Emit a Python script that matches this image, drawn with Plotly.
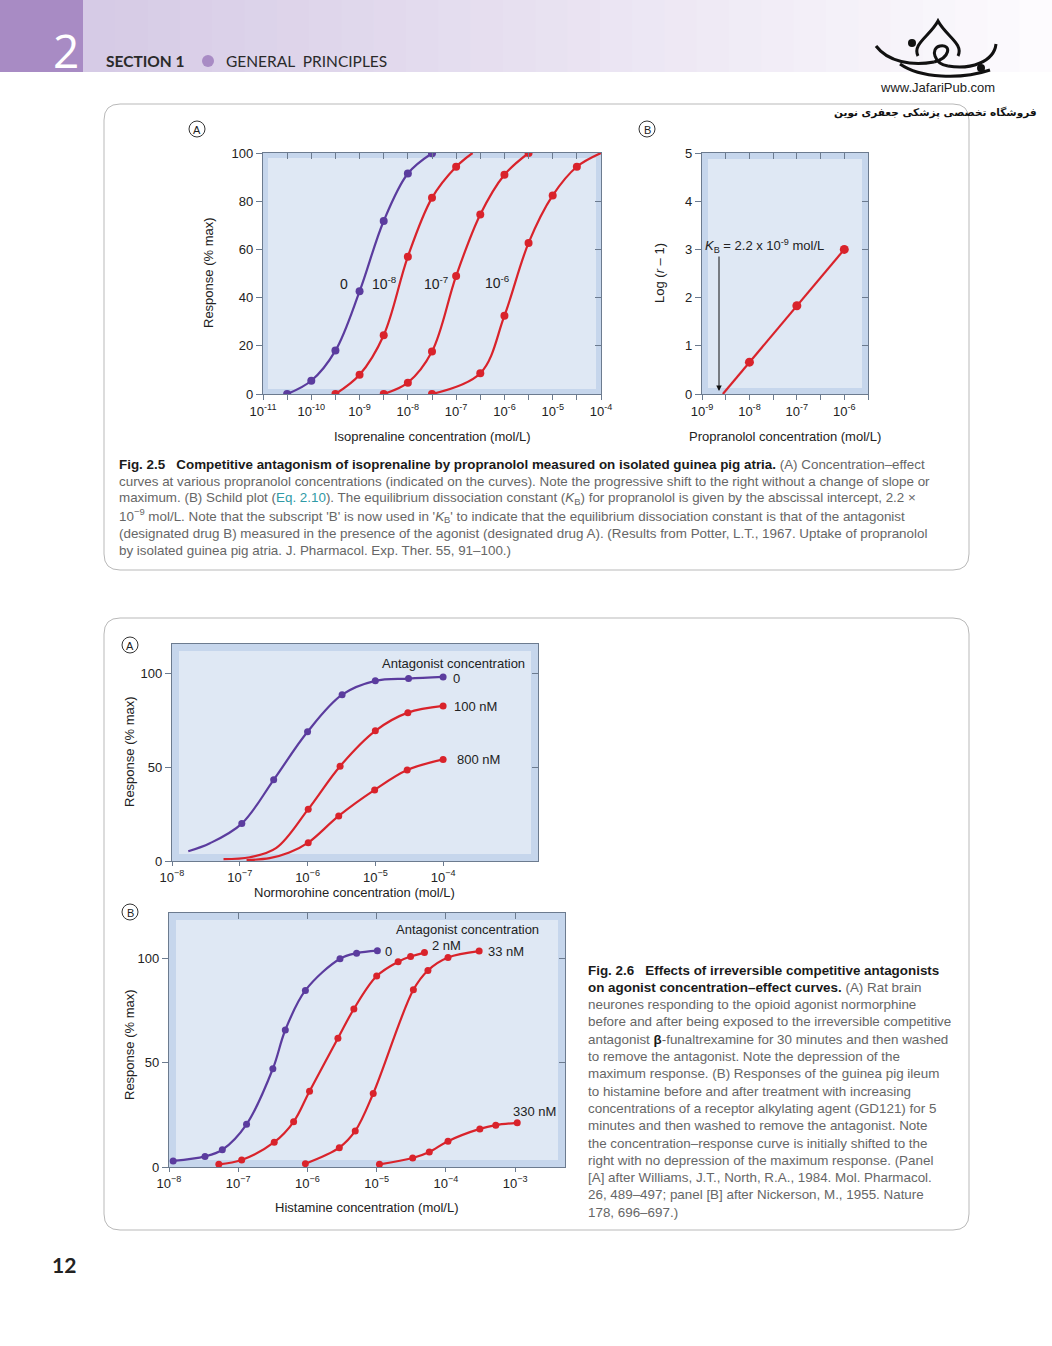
import plotly.graph_objects as go

W, H = 1052, 1346
def px(x): return x / W
def py(y): return 1 - y / H

# ---------------- DATA (x values are log10 of molar concentration) ----------------
# Fig 2.5A  isoprenaline concentration-effect curves at various propranolol concentrations
iso_x_0 = [-10.5, -10, -9.5, -9, -8.5, -8, -7.5]
iso_y_0 = [0, 5.5, 18, 42.6, 71.8, 91.5, 99.9]
iso_x_e8 = [-9.5, -9, -8.5, -8, -7.5, -7]
iso_y_e8 = [0, 8, 24.4, 57, 81.4, 94.3]
iso_x_e7 = [-8.5, -8, -7.5, -7, -6.5, -6, -5.5]
iso_y_e7 = [0, 4.7, 17.6, 49, 74.5, 91, 100]
iso_x_e6 = [-7.5, -6.5, -6, -5.5, -5, -4.5]
iso_y_e6 = [0, 8.6, 32.5, 62.7, 82.4, 94.3]
iso_end_e8 = [[-6.66], [100]]
iso_end_e6 = [[-4.0], [100]]
iso_labels = ["0", "10<sup>-8</sup>", "10<sup>-7</sup>", "10<sup>-6</sup>"]

# Fig 2.5B  Schild plot
schild_x = [-8, -7, -6]
schild_y = [0.66, 1.83, 3.0]
schild_intercept = -8.56

# Fig 2.6A  normorphine (curve tails)
nor_x_0 = [-6.97, -6.5, -6.0, -5.49, -5.0, -4.51, -4.0]
nor_y_0 = [20, 43.4, 69.1, 88.9, 96.3, 97.5, 98.4]
nor_tail_0 = [[-7.76, -7.44], [5.2, 9.5]]
nor_x_100 = [-5.99, -5.52, -5.0, -4.52, -4.0]
nor_y_100 = [27.7, 50.7, 69.6, 79.3, 82.9]
nor_tail_100 = [[-7.24, -6.85, -6.46], [1.0, 2.0, 7.0]]
nor_x_800 = [-5.99, -5.54, -5.01, -4.53, -4.0]
nor_y_800 = [9.8, 24.1, 38, 48.6, 54.3]
nor_tail_800 = [[-6.9, -6.56, -6.27], [0.5, 1.5, 4.5]]

# Fig 2.6B  histamine
his_x_0 = [-7.94, -7.48, -7.23, -6.88, -6.50, -6.32, -6.03, -5.53, -5.29, -4.99]
his_y_0 = [2.9, 5.1, 8.3, 20.5, 47.2, 65.8, 84.8, 100, 102.7, 103.9]
his_x_2 = [-7.28, -6.95, -6.48, -6.20, -5.97, -5.56, -5.33, -5.0, -4.69, -4.51, -4.31]
his_y_2 = [1.3, 3.4, 11.9, 21.7, 36.4, 61.8, 75.9, 91.7, 98.6, 101.1, 103.0]
his_x_33 = [-6.03, -5.54, -5.31, -5.05, -4.47, -4.26, -3.97, -3.52]
his_y_33 = [1.6, 9.3, 17.3, 35.3, 85.1, 94.4, 100.6, 103.7]
his_x_330 = [-4.96, -4.48, -4.24, -3.97, -3.51, -3.28, -2.97]
his_y_330 = [1.3, 4.3, 7.2, 12.4, 18.3, 20.1, 21.2]

# tick labels
t25a = ["10<sup>-11</sup>", "10<sup>-10</sup>", "10<sup>-9</sup>", "10<sup>-8</sup>",
        "10<sup>-7</sup>", "10<sup>-6</sup>", "10<sup>-5</sup>", "10<sup>-4</sup>"]
t25b = ["10<sup>-9</sup>", "10<sup>-8</sup>", "10<sup>-7</sup>", "10<sup>-6</sup>"]
t26a = ["10<sup>\u22128</sup>", "10<sup>\u22127</sup>", "10<sup>\u22126</sup>",
        "10<sup>\u22125</sup>", "10<sup>\u22124</sup>"]
t26b = t26a + ["10<sup>\u22123</sup>"]

# ---------------- STYLE ----------------
PURPLE = "#5b3c9e"
RED = "#d9232b"
AXC = "#6c7b8f"
BAND = "#c6d6ec"
INNER = "#dfe8f4"
FONT = "Liberation Sans"
TXT = "#222222"
GREY = "#666666"

fig = go.Figure()
layout = {}
shapes = []
ann = []

def nm(n, a):
    return a if n == 1 else f"{a}{n}"

def add_panel(idx, dom, xr, yr, xb, xb_text, xt, yl, yr_ticks, band, xb_len=5):
    l, r, t, b = dom
    n1, n2 = 2 * idx + 1, 2 * idx + 2
    xd = [px(l), px(r)]
    yd = [py(b), py(t)]
    shapes.append(dict(type="rect", xref="paper", yref="paper", x0=px(l), x1=px(r), y0=py(b), y1=py(t),
                       fillcolor=BAND, line=dict(width=0), layer="below"))
    shapes.append(dict(type="rect", xref="paper", yref="paper", x0=px(l + band), x1=px(r - band),
                       y0=py(b - band), y1=py(t + band), fillcolor=INNER, line=dict(width=0), layer="below"))
    layout["xaxis" if n1 == 1 else f"xaxis{n1}"] = dict(
        type="log", range=list(xr), domain=xd, anchor=nm(n1, "y"), ticks="outside", ticklen=xb_len,
        tickwidth=1, tickcolor=AXC, tickvals=[10 ** v for v in xb], ticktext=xb_text, showline=True,
        linecolor=AXC, linewidth=1.2, mirror=True, showgrid=False, zeroline=False, automargin=False,
        tickfont=dict(family=FONT, size=13, color=TXT))
    layout[f"yaxis{'' if n1 == 1 else n1}"] = dict(
        range=list(yr), domain=yd, anchor=nm(n1, "x"), ticks="outside", ticklen=6, tickwidth=1,
        tickcolor=AXC, tickvals=yl, ticktext=[str(v) for v in yl], showline=True, linecolor=AXC,
        linewidth=1.2, mirror=True, showgrid=False, zeroline=False, automargin=False,
        tickfont=dict(family=FONT, size=13, color=TXT))
    layout[f"xaxis{n2}"] = dict(
        type="log", range=list(xr), domain=xd, overlaying=nm(n1, "x"), anchor=f"y{n2}", side="top",
        ticks="inside" if xt else "", ticklen=6, tickwidth=1, tickcolor=AXC, automargin=False,
        tickvals=[10 ** v for v in xt], showticklabels=False, showline=False, showgrid=False, zeroline=False)
    layout[f"yaxis{n2}"] = dict(
        range=list(yr), domain=yd, overlaying=nm(n1, "y"), anchor=f"x{n2}", side="right",
        ticks="inside", ticklen=6, tickwidth=1, tickcolor=AXC, tickvals=yr_ticks, automargin=False,
        showticklabels=False, showline=False, showgrid=False, zeroline=False)
    fig.add_trace(go.Scatter(x=[], y=[], xaxis=f"x{n2}", yaxis=f"y{n2}", showlegend=False))
    return nm(n1, "x"), nm(n1, "y")

def curve(xa, ya, xs, ys, color, msize, lw=2.2, start=None, end=None):
    lx = list(xs); ly = list(ys)
    if start:
        lx = list(start[0]) + lx; ly = list(start[1]) + ly
    if end:
        lx = lx + list(end[0]); ly = ly + list(end[1])
    fig.add_trace(go.Scatter(x=[10 ** v for v in lx], y=ly, mode="lines", xaxis=xa, yaxis=ya,
                             line=dict(color=color, width=lw, shape="spline", smoothing=1.0),
                             showlegend=False, hoverinfo="skip"))
    fig.add_trace(go.Scatter(x=[10 ** v for v in xs], y=list(ys), mode="markers", xaxis=xa, yaxis=ya,
                             marker=dict(color=color, size=msize, line=dict(width=0)),
                             showlegend=False))

def half(a, b):
    return [a + 0.5 * i for i in range(int(round((b - a) * 2)) + 1)]

def halftext(labels):
    out = []
    for i, s in enumerate(labels):
        out.append(s)
        if i < len(labels) - 1:
            out.append("")
    return out

# ---- Fig 2.5A
xa, ya = add_panel(0, (263, 601, 153, 394), (-11, -4), (0, 100), half(-11, -4), halftext(t25a),
                   half(-10.5, -4.5), [0, 20, 40, 60, 80, 100], [20, 40, 60, 80], 5)
curve(xa, ya, iso_x_0, iso_y_0, PURPLE, 8)
curve(xa, ya, iso_x_e8, iso_y_e8, RED, 8, end=iso_end_e8)
curve(xa, ya, iso_x_e7, iso_y_e7, RED, 8)
curve(xa, ya, iso_x_e6, iso_y_e6, RED, 8, end=iso_end_e6)

# ---- Fig 2.5B
xb_, yb_ = add_panel(1, (702, 868, 153, 394), (-9, -5.5), (0, 5), half(-9, -5.5),
                     halftext(t25b) + [""], half(-8.5, -6), [0, 1, 2, 3, 4, 5], [1, 2, 3, 4], 6)
fig.add_trace(go.Scatter(x=[10 ** v for v in [schild_intercept] + schild_x], y=[0] + schild_y,
                         mode="lines", xaxis=xb_, yaxis=yb_, line=dict(color=RED, width=2.2),
                         showlegend=False))
fig.add_trace(go.Scatter(x=[10 ** v for v in schild_x], y=schild_y, mode="markers", xaxis=xb_,
                         yaxis=yb_, marker=dict(color=RED, size=9), showlegend=False))

# ---- Fig 2.6A
xc, yc = add_panel(2, (172, 538, 644, 861), (-8, -2.6), (0, 116), [-8, -7, -6, -5, -4], t26a,
                   [], [0, 50, 100], [50, 100], 7, xb_len=4)
curve(xc, yc, nor_x_0, nor_y_0, PURPLE, 7, start=nor_tail_0)
curve(xc, yc, nor_x_100, nor_y_100, RED, 7, start=nor_tail_100)
curve(xc, yc, nor_x_800, nor_y_800, RED, 7, start=nor_tail_800)

# ---- Fig 2.6B
xd_, yd_ = add_panel(3, (169, 565, 913, 1167), (-8, -2.28), (0, 122), [-8, -7, -6, -5, -4, -3], t26b,
                     [-7, -6, -5, -4, -3], [0, 50, 100], [50, 100], 7, xb_len=4)
curve(xd_, yd_, his_x_0, his_y_0, PURPLE, 7)
curve(xd_, yd_, his_x_2, his_y_2, RED, 7)
curve(xd_, yd_, his_x_33, his_y_33, RED, 7)
curve(xd_, yd_, his_x_330, his_y_330, RED, 7)

# ---------------- text helpers ----------------
def text(x, y, s, size=13, color=TXT, xanchor="center", angle=0, family=FONT):
    ann.append(dict(xref="paper", yref="paper", x=px(x), y=py(y), text=s, showarrow=False,
                    xanchor=xanchor, yanchor="middle", textangle=angle,
                    font=dict(family=family, size=size, color=color)))

def circ_label(x, y, s):
    shapes.append(dict(type="circle", xref="paper", yref="paper", x0=px(x - 8), x1=px(x + 8),
                       y0=py(y + 8), y1=py(y - 8), line=dict(color="#333", width=1), fillcolor="white"))
    text(x, y + 0.5, s, size=11)

circ_label(197, 129, "A")
circ_label(647, 129, "B")
text(344, 284, iso_labels[0], 14)
text(384, 283, iso_labels[1], 14)
text(436, 283, iso_labels[2], 14)
text(497, 282, iso_labels[3], 14)
text(432, 437, "Isoprenaline concentration (mol/L)", 13)
text(209, 273, "Response (% max)", 13, angle=-90)
text(660, 273, "Log (<i>r</i> \u2013 1)", 13, angle=-90)
text(785, 437, "Propranolol concentration (mol/L)", 13)
text(703, 246, "<i>K</i><sub>B</sub> = 2.2 x 10<sup>-9</sup> mol/L", 13, xanchor="left")
ann.append(dict(xref="paper", yref="paper", x=px(719), y=py(391), ax=0, ay=-136, text="",
                showarrow=True, arrowhead=2, arrowsize=1.1, arrowwidth=1, arrowcolor="#111"))

circ_label(130, 645, "A")
circ_label(130, 912, "B")
text(354, 892, "Normorohine concentration (mol/L)", 13)
text(129, 752, "Response (% max)", 13, angle=-90)
text(453, 663, "Antagonist concentration", 13)
text(451, 678, "0", 13, xanchor="left")
text(452, 706, "100 nM", 13, xanchor="left")
text(455, 759, "800 nM", 13, xanchor="left")
text(367, 1207, "Histamine concentration (mol/L)", 13)
text(129, 1045, "Response (% max)", 13, angle=-90)
text(468, 929, "Antagonist concentration", 13)
text(383, 951, "0", 13, xanchor="left")
text(430, 946, "2 nM", 13, xanchor="left")
text(486, 951, "33 nM", 13, xanchor="left")
text(511, 1111, "330 nM", 13, xanchor="left")

cap25 = [
    "<b>Fig. 2.5   Competitive antagonism of isoprenaline by propranolol measured on isolated guinea pig atria.</b> (A) Concentration\u2013effect",
    "curves at various propranolol concentrations (indicated on the curves). Note the progressive shift to the right without a change of slope or",
    "maximum. (B) Schild plot (<span style='color:#2f9aa6'>Eq. 2.10</span>). The equilibrium dissociation constant (<i>K</i><sub>B</sub>) for propranolol is given by the abscissal intercept, 2.2 \u00d7",
    "10<sup>\u22129</sup> mol/L. Note that the subscript 'B' is now used in '<i>K</i><sub>B</sub>' to indicate that the equilibrium dissociation constant is that of the antagonist",
    "(designated drug B) measured in the presence of the agonist (designated drug A). (Results from Potter, L.T., 1967. Uptake of propranolol",
    "by isolated guinea pig atria. J. Pharmacol. Exp. Ther. 55, 91\u2013100.)",
]
for i, s in enumerate(cap25):
    s2 = s.replace("<b>", "<b><span style='color:#1a1a1a'>").replace("</b>", "</span></b>")
    text(117, 464 + i * 17.3, s2, 13.4, color=GREY, xanchor="left")

cap26 = [
    "<b>Fig. 2.6   Effects of irreversible competitive antagonists</b>",
    "<b>on agonist concentration\u2013effect curves.</b> (A) Rat brain",
    "neurones responding to the opioid agonist normorphine",
    "before and after being exposed to the irreversible competitive",
    "antagonist <b>\u03b2</b>-funaltrexamine for 30 minutes and then washed",
    "to remove the antagonist. Note the depression of the",
    "maximum response. (B) Responses of the guinea pig ileum",
    "to histamine before and after treatment with increasing",
    "concentrations of a receptor alkylating agent (GD121) for 5",
    "minutes and then washed to remove the antagonist. Note",
    "the concentration\u2013response curve is initially shifted to the",
    "right with no depression of the maximum response. (Panel",
    "[A] after Williams, J.T., North, R.A., 1984. Mol. Pharmacol.",
    "26, 489\u2013497; panel [B] after Nickerson, M., 1955. Nature",
    "178, 696\u2013697.)",
]
for i, s in enumerate(cap26):
    s2 = s.replace("<b>", "<b><span style='color:#1a1a1a'>").replace("</b>", "</span></b>")
    text(586, 970 + i * 17.3, s2, 13.4, color=GREY, xanchor="left")

# header band
steps = 30
for i in range(steps):
    x0 = 83 + i * (W - 83) / steps
    x1 = 83 + (i + 1) * (W - 83) / steps + 1
    f = i / (steps - 1)
    r = int(214 + (253 - 214) * f)
    g = int(203 + (251 - 203) * f)
    bcol = int(230 + (254 - 230) * f)
    shapes.append(dict(type="rect", xref="paper", yref="paper", x0=px(x0), x1=px(min(x1, W)),
                       y0=py(72), y1=py(0), fillcolor=f"rgb({r},{g},{bcol})", line=dict(width=0),
                       layer="below"))
shapes.append(dict(type="rect", xref="paper", yref="paper", x0=0, x1=px(83), y0=py(72), y1=1,
                   fillcolor="#a88bc4", line=dict(width=0), layer="below"))
text(66, 50, "2", 46, color="white", family="Open Sans")
text(104, 61, "<b>SECTION 1</b>", 15.5, color="#2a2a2a", xanchor="left", family="Lato")
shapes.append(dict(type="circle", xref="paper", yref="paper", x0=px(202), x1=px(214), y0=py(67),
                   y1=py(55), fillcolor="#a88bc4", line=dict(width=0)))
text(224, 61, "GENERAL  PRINCIPLES", 15.5, color="#2a2a2a", xanchor="left", family="Lato")

# logo (approximate calligraphic mark) and texts
def ppath(pts_cmd):
    out = []
    for tok in pts_cmd:
        if isinstance(tok, str):
            out.append(tok)
        else:
            out.append(f"{px(tok[0])},{py(tok[1])}")
    return " ".join(out)

logo_paths = [
    ["M", (918, 56), "C", (912, 44), (930, 36), (938, 21), "C", (946, 36), (964, 44), (958, 56)],
    ["M", (876, 46), "C", (888, 62), (912, 66), (934, 62)],
    ["M", (934, 62), "C", (950, 58), (952, 44), (940, 46), "C", (930, 48), (934, 64), (948, 66)],
    ["M", (948, 66), "C", (970, 70), (994, 62), (996, 44)],
    ["M", (900, 64), "C", (920, 78), (960, 80), (990, 70)],
]
for pth in logo_paths:
    shapes.append(dict(type="path", xref="paper", yref="paper", path=ppath(pth),
                       line=dict(color="#111", width=3)))
for cx, cy, rr in [(912, 43, 4), (981, 68, 4)]:
    shapes.append(dict(type="circle", xref="paper", yref="paper", x0=px(cx - rr), x1=px(cx + rr),
                       y0=py(cy + rr), y1=py(cy - rr), fillcolor="#111", line=dict(width=0)))
text(937, 88, "www.JafariPub.com", 13, color="#222")
text(936, 112, "<b>\u0641\u0631\u0648\u0634\u06af\u0627\u0647 \u062a\u062e\u0635\u0635\u06cc \u067e\u0632\u0634\u06a9\u06cc \u062c\u0639\u0641\u0631\u06cc \u0646\u0648\u06cc\u0646</b>",
     10.5, color="#111", family="DejaVu Sans")

text(64, 1264, "<b>12</b>", 21, color="#222", family="Lato")

def rbox(x0, y0, x1, y1, r=16):
    rx, ry = r / W, r / H
    X0, X1, Y0, Y1 = px(x0), px(x1), py(y0), py(y1)
    p = (f"M {X0 + rx},{Y0} L {X1 - rx},{Y0} Q {X1},{Y0} {X1},{Y0 - ry} "
         f"L {X1},{Y1 + ry} Q {X1},{Y1} {X1 - rx},{Y1} L {X0 + rx},{Y1} Q {X0},{Y1} {X0},{Y1 + ry} "
         f"L {X0},{Y0 - ry} Q {X0},{Y0} {X0 + rx},{Y0} Z")
    shapes.append(dict(type="path", xref="paper", yref="paper", path=p,
                       line=dict(color="#b9b9b9", width=1), layer="below"))

rbox(104, 104, 969, 570)
rbox(104, 618, 969, 1230)

fig.update_layout(
    template="none",
    width=W, height=H, margin=dict(l=0, r=0, t=0, b=0, pad=0, autoexpand=False),
    paper_bgcolor="white", plot_bgcolor="rgba(0,0,0,0)", showlegend=False,
    font=dict(family=FONT, size=13, color=TXT),
    shapes=shapes, annotations=ann, **layout)

fig.write_html("out.html", config={"displayModeBar": False},
               post_script="document.body.style.margin='0';document.body.style.padding='0';")
